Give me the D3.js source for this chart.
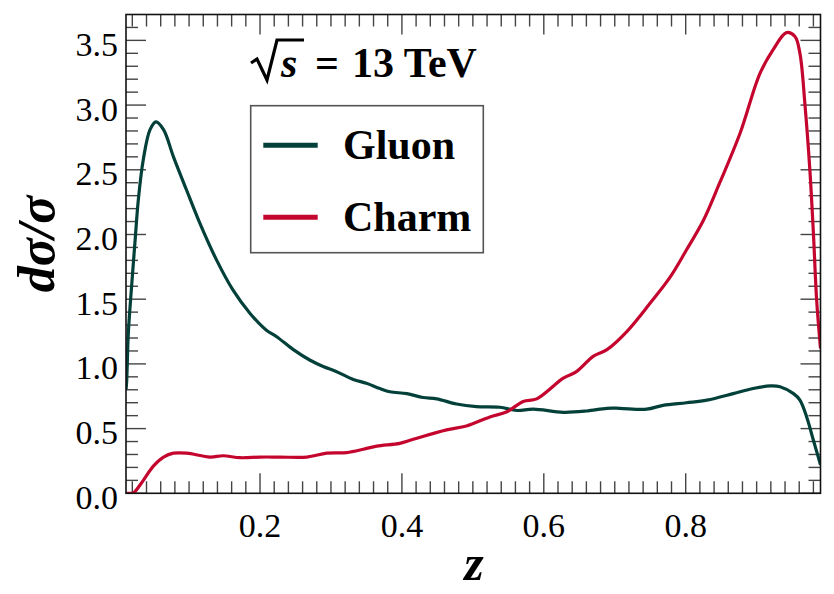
<!DOCTYPE html>
<html>
<head>
<meta charset="utf-8">
<script src="https://cdn.jsdelivr.net/npm/d3@7"></script>
<style>
  body { margin:0; background:#fff; }
  svg text { font-family: "Liberation Serif", "Times New Roman", serif; }
</style>
</head>
<body>
<div id="chart"></div>
<script>
// values
var zGluon = [0.0111, 0.012, 0.0144, 0.019, 0.024, 0.0285, 0.0355, 0.045, 0.0534, 0.064, 0.078, 0.0967,
  0.115, 0.139, 0.162, 0.186, 0.209, 0.2235, 0.247, 0.27, 0.289, 0.308, 0.3315, 0.35, 0.369, 0.383,
  0.407, 0.43, 0.449, 0.477, 0.505, 0.538, 0.562, 0.585, 0.6275, 0.66, 0.689, 0.707, 0.745, 0.768,
  0.801, 0.83, 0.867, 0.895, 0.919, 0.933, 0.952, 0.961, 0.9705, 0.98, 0.99];
var gluonVals = [0.80, 0.86, 1.24, 1.60, 1.96, 2.27, 2.58, 2.81, 2.87, 2.81, 2.60, 2.34,
  2.09, 1.80, 1.57, 1.39, 1.26, 1.21, 1.11, 1.03, 0.98, 0.94, 0.88, 0.85, 0.81, 0.785,
  0.77, 0.74, 0.73, 0.69, 0.67, 0.665, 0.64, 0.65, 0.626, 0.636, 0.657, 0.657, 0.65, 0.68,
  0.70, 0.72, 0.77, 0.81, 0.83, 0.824, 0.77, 0.72, 0.59, 0.41, 0.22];

var zCharm = [0.0111, 0.0168, 0.021, 0.0355, 0.0496, 0.064, 0.078, 0.0967, 0.1295, 0.148, 0.172, 0.2,
  0.228, 0.266, 0.294, 0.322, 0.3456, 0.3645, 0.397, 0.416, 0.463, 0.491, 0.524, 0.548, 0.571, 0.59,
  0.6275, 0.646, 0.67, 0.689, 0.717, 0.75, 0.778, 0.801, 0.825, 0.848, 0.8765, 0.9047, 0.9235, 0.942,
  0.954, 0.961, 0.968, 0.975, 0.98, 0.9846, 0.99];
var charmVals = [0.0, 0.0, 0.0, 0.10, 0.21, 0.28, 0.31, 0.31, 0.28, 0.29, 0.275, 0.28,
  0.28, 0.28, 0.31, 0.315, 0.34, 0.365, 0.386, 0.417, 0.49, 0.52, 0.59, 0.63, 0.71, 0.73,
  0.89, 0.94, 1.06, 1.11, 1.25, 1.47, 1.67, 1.88, 2.11, 2.40, 2.78, 3.245, 3.43, 3.56,
  3.53, 3.40, 3.01, 2.50, 2.01, 1.49, 1.12];

var seriesNames = ["Gluon", "Charm"];
var seriesColors = ["#03403a", "#c4062f"];
var xMajor = [0.2, 0.4, 0.6, 0.8];
var yMajor = [0.0, 0.5, 1.0, 1.5, 2.0, 2.5, 3.0, 3.5];

var W = 834, H = 594;
var margin = { left:126, right:13.5, top:14.5, bottom:100.7 };
var width = W - margin.left - margin.right,
    height = H - margin.top - margin.bottom;

var svg = d3.select("#chart").append("svg")
    .attr("width", W)
    .attr("height", H);

var chart = svg.append("g")
    .attr("transform", "translate(" + margin.left + "," + margin.top + ")");

var x = d3.scaleLinear().domain([0.0111, 0.990]).range([0, width]);
var y = d3.scaleLinear().domain([0, 3.70]).range([height, 0]);

var xMinor = d3.range(1, 50).map(function(i){ return i * 0.02; })
    .filter(function(v){ return v > 0.0111 && v < 0.99; });
var yMinor = d3.range(0, 37).map(function(i){ return i * 0.1; });

function isMajor(v, list){
    return list.some(function(m){ return Math.abs(m - v) < 1e-6; });
}

// ticks on all four sides, pointing inward
var tickG = chart.append("g").attr("stroke", "#444").attr("stroke-width", 1.4);

xMinor.forEach(function(v){
    var len = isMajor(v, xMajor) ? 20 : 12;
    tickG.append("line").attr("x1", x(v)).attr("x2", x(v)).attr("y1", height).attr("y2", height - len);
    tickG.append("line").attr("x1", x(v)).attr("x2", x(v)).attr("y1", 0).attr("y2", len);
});
yMinor.forEach(function(v){
    var len = isMajor(v, yMajor) ? 20 : 12;
    tickG.append("line").attr("y1", y(v)).attr("y2", y(v)).attr("x1", 0).attr("x2", len);
    tickG.append("line").attr("y1", y(v)).attr("y2", y(v)).attr("x1", width).attr("x2", width - len);
});

// tick labels
chart.append("g").selectAll("text")
    .data(xMajor).enter().append("text")
    .attr("x", function(d){ return x(d); })
    .attr("y", height + 44)
    .attr("text-anchor", "middle")
    .attr("font-size", "34px")
    .text(function(d){ return d3.format(".1f")(d); });

chart.append("g").selectAll("text")
    .data(yMajor).enter().append("text")
    .attr("x", -8)
    .attr("y", function(d){ return y(d) + 15.5; })
    .attr("text-anchor", "end")
    .attr("font-size", "34px")
    .text(function(d){ return d3.format(".1f")(d); });

// curves
svg.append("defs").append("clipPath").attr("id", "clip")
    .append("rect").attr("width", width).attr("height", height);

var line = d3.line()
    .x(function(d){ return x(d[0]); })
    .y(function(d){ return y(d[1]); })
    .curve(d3.curveCatmullRom.alpha(0.5));

var series = [d3.zip(zGluon, gluonVals), d3.zip(zCharm, charmVals)];

chart.append("g").attr("clip-path", "url(#clip)")
    .selectAll("path").data(series).enter().append("path")
    .attr("d", line)
    .attr("fill", "none")
    .attr("stroke", function(d, i){ return seriesColors[i]; })
    .attr("stroke-width", 3.2)
    .attr("stroke-linejoin", "round");

// frame
chart.append("rect")
    .attr("width", width).attr("height", height)
    .attr("fill", "none").attr("stroke", "#111").attr("stroke-width", 1.6);

// axis labels
svg.append("text")
    .attr("transform", "translate(54,244) rotate(-90)")
    .attr("text-anchor", "middle")
    .attr("font-size", "52px")
    .attr("font-weight", "bold")
    .attr("font-style", "italic")
    .text("dσ/σ");

svg.append("text")
    .attr("x", 474).attr("y", 580)
    .attr("text-anchor", "middle")
    .attr("font-size", "50px")
    .attr("font-weight", "bold")
    .attr("font-style", "italic")
    .text("z");

// energy label: sqrt(s) = 13 TeV
var title = svg.append("g");
title.append("path")
    .attr("d", "M251,63 L257,59 L267,80 L277,40 L304,40")
    .attr("fill", "none").attr("stroke", "#000").attr("stroke-width", 3.2)
    .attr("stroke-linejoin", "miter");
title.append("text")
    .attr("x", 281).attr("y", 77)
    .attr("font-size", "42px").attr("font-weight", "bold").attr("font-style", "italic")
    .text("s");
title.append("text")
    .attr("x", 315).attr("y", 77)
    .attr("font-size", "42px").attr("font-weight", "bold")
    .text("=");
title.append("text")
    .attr("x", 352).attr("y", 77)
    .attr("font-size", "42px").attr("font-weight", "bold")
    .text("13 TeV");

// legend
var legend = svg.append("g");
legend.append("rect")
    .attr("x", 250.7).attr("y", 105.7)
    .attr("width", 232.6).attr("height", 147)
    .attr("fill", "#fff").attr("stroke", "#555").attr("stroke-width", 1.6);

var legendY = [145.3, 217.3];
seriesNames.forEach(function(name, i){
    legend.append("line")
        .attr("x1", 263.3).attr("x2", 317.7)
        .attr("y1", legendY[i]).attr("y2", legendY[i])
        .attr("stroke", seriesColors[i]).attr("stroke-width", 5);
    legend.append("text")
        .attr("x", 343).attr("y", legendY[i] + 14)
        .attr("font-size", "42px").attr("font-weight", "bold")
        .text(name);
});
</script>
</body>
</html>
